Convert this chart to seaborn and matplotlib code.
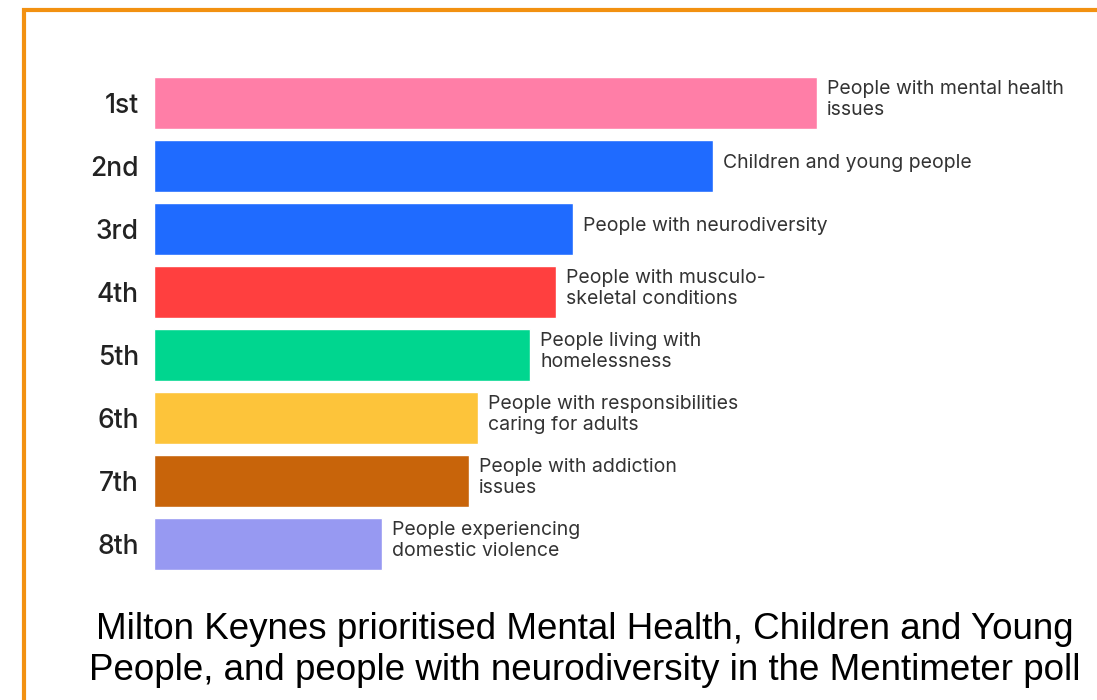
import matplotlib
matplotlib.use('Agg')
import matplotlib.pyplot as plt
import seaborn as sns
import pandas as pd
from matplotlib.patches import Rectangle

sns.set_style('white')

# data (relative scores)
ranks = ['1st', '2nd', '3rd', '4th', '5th', '6th', '7th', '8th']
scores = [6.63, 5.59, 4.19, 4.02, 3.76, 3.24, 3.15, 2.28]
groups = ['People with mental health\nissues',
          'Children and young people',
          'People with neurodiversity',
          'People with musculo-\nskeletal conditions',
          'People living with\nhomelessness',
          'People with responsibilities\ncaring for adults',
          'People with addiction\nissues',
          'People experiencing\ndomestic violence']
colours = ['#FF7EA7', '#1F6BFF', '#1F6BFF', '#FF3F3F',
           '#00D68F', '#FDC43A', '#C8640A', '#9799F2']
caption = ('Milton Keynes prioritised Mental Health, Children and Young\n'
           'People, and people with neurodiversity in the Mentimeter poll')

df = pd.DataFrame({'rank': ranks, 'score': scores})

fig = plt.figure(figsize=(10.97, 7.0), dpi=100)
W, H = 1097, 700
ax = fig.add_axes([154 / W, 1 - 575.5 / H, 846 / W, 504 / H])

sns.barplot(data=df, x='score', y='rank', hue='rank', palette=colours,
            width=0.83, legend=False, saturation=1, ax=ax)
ax.set_xlim(0, 8.46)
ax.set_ylim(7.5, -0.5)
ax.set_xlabel('')
ax.set_ylabel('')
ax.set_xticks([])
sns.despine(ax=ax, left=True, bottom=True)
ax.tick_params(axis='y', length=0, pad=11)
for t in ax.get_yticklabels():
    t.set_fontfamily('Inter')
    t.set_fontsize(19)
    t.set_fontweight('medium')
    t.set_color('#222222')

# category labels at the end of each bar
for i, (v, g) in enumerate(zip(scores, groups)):
    ax.text(v + 0.1, i - 0.05, g, va='center', ha='left', fontsize=14,
            family='Inter', color='#333333', linespacing=1.2)

# caption under the chart
fig.text(585 / W, 1 - 650 / H, caption, ha='center', va='center',
         fontsize=26.5, family='Liberation Sans', color='black', linespacing=1.22)

# orange frame (only the top and left edges are inside the picture)
fig.patches.append(Rectangle((23.5 / W, 1 - 760 / H), 1100 / W, 750 / H,
                             transform=fig.transFigure, fill=False,
                             edgecolor='#F29111', linewidth=3))

fig.savefig('out.png', dpi=100)
